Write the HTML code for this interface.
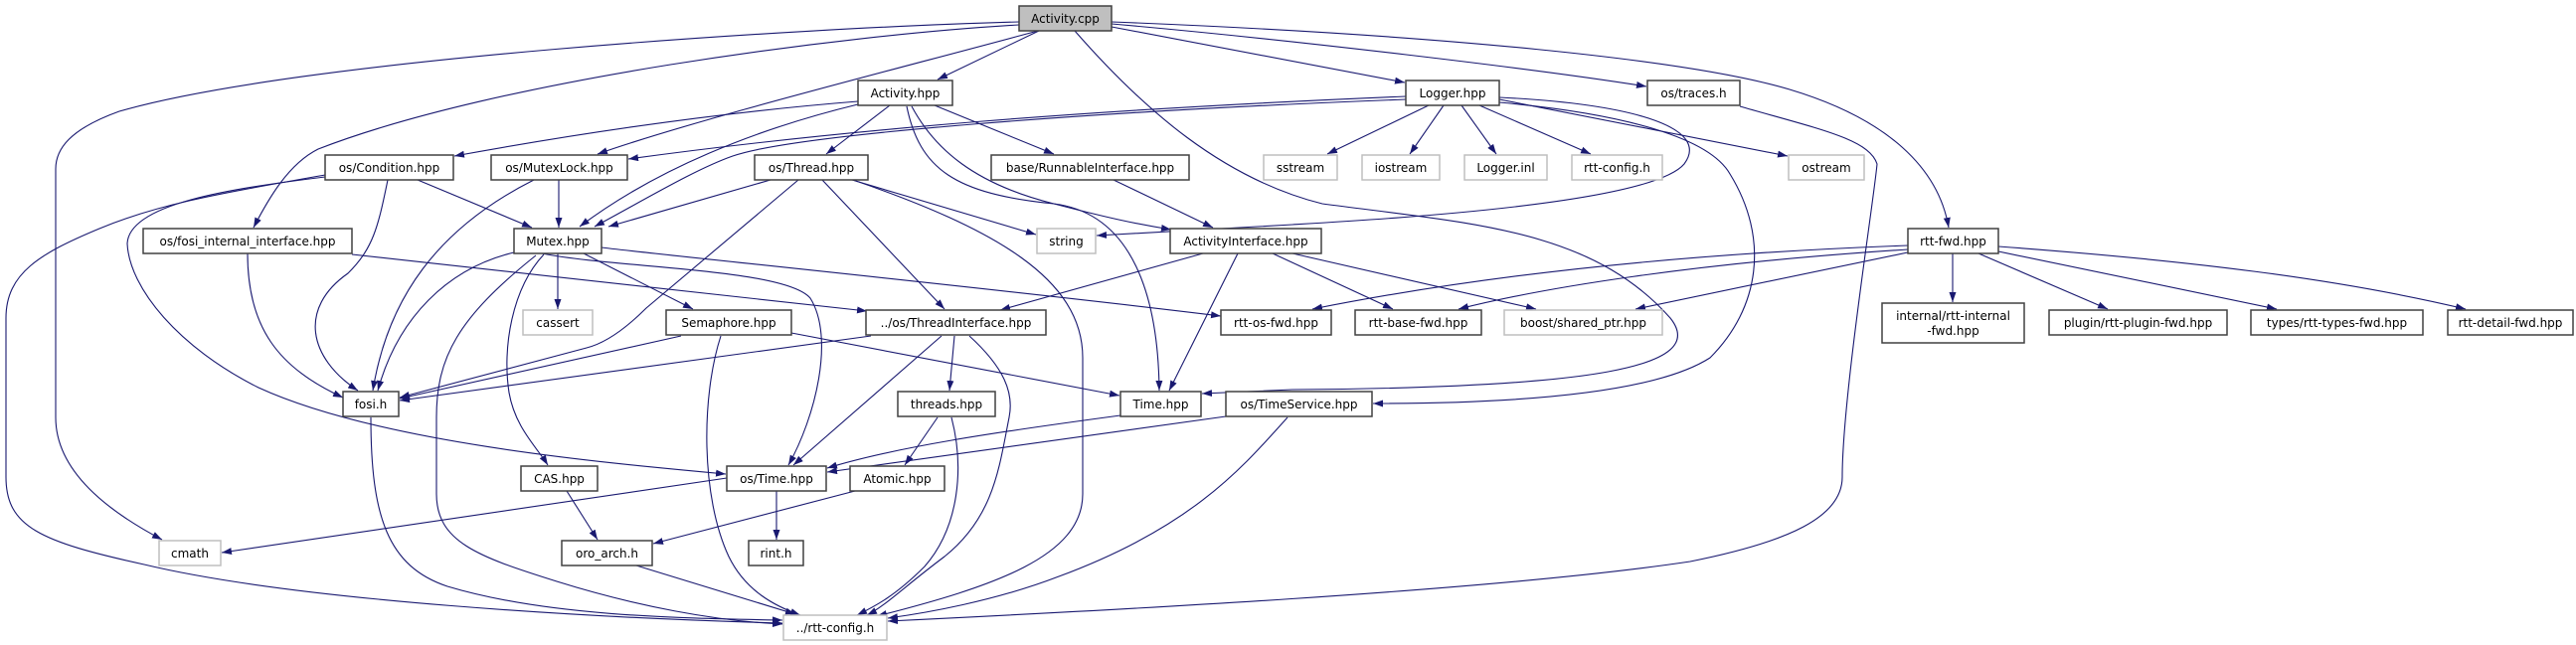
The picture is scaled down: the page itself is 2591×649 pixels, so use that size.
<!DOCTYPE html>
<html><head><meta charset="utf-8"><style>
html,body{margin:0;padding:0;background:#fff}
svg{display:block}
text{font-family:"DejaVu Sans","Liberation Sans",sans-serif;font-size:12px;fill:#000}
.n rect{fill:#fff;stroke:#404040;stroke-width:1.5}
.g rect{fill:#fff;stroke:#bfbfbf;stroke-width:1.5}
.e path{fill:none;stroke:#191970;stroke-width:1.1}
</style></head><body>
<svg width="2591" height="649" viewBox="0 0 2591 649" xmlns="http://www.w3.org/2000/svg">
<defs><marker id="a" markerUnits="userSpaceOnUse" markerWidth="11" markerHeight="8" refX="10" refY="3.5" orient="auto"><path d="M0,0 L10,3.5 L0,7 z" fill="#191970"/></marker></defs>
<g class="e" marker-end="url(#a)">
<path d="M1025,22 C800,28 300,60 120,112 C70,130 56,150 56,170 L56,420 C56,475 110,515 163,543"/>
<path d="M1025,25 C850,35 500,80 320,150 C290,165 270,200 255,229"/>
<path d="M1044,31 C900,70 700,120 601,155"/>
<path d="M1045,31 L943,80"/>
<path d="M1118,27 L1413,83"/>
<path d="M1118,24 C1300,40 1550,70 1656,87"/>
<path d="M1118,22 C1450,35 1700,60 1800,90 C1900,120 1950,170 1960,229"/>
<path d="M1081,31 C1150,110 1230,180 1330,205 C1480,225 1600,230 1680,320 C1720,370 1600,390 1300,392 L1209,396"/>
<path d="M1508,98 C1650,105 1720,130 1694,165 C1660,205 1400,220 1300,226 L1103,237"/>
<path d="M1508,103 C1640,115 1720,140 1740,175 C1780,240 1770,310 1720,360 C1650,405 1450,406 1381,406"/>
<path d="M1437,106 L1335,155"/>
<path d="M1452,106 L1418,155"/>
<path d="M1470,106 L1505,155"/>
<path d="M1488,106 L1600,155"/>
<path d="M1508,100 L1798,157"/>
<path d="M1414,97 C1100,110 850,130 632,160"/>
<path d="M1414,100 C1100,112 800,135 737,157 C700,170 650,200 598,228"/>
<path d="M863,102 C700,115 550,140 457,157"/>
<path d="M863,105 C760,130 660,170 583,228"/>
<path d="M775,181 L612,228"/>
<path d="M562,181 L562,229"/>
<path d="M420,181 L535,229"/>
<path d="M895,106 L831,155"/>
<path d="M940,106 L1060,155"/>
<path d="M917,107 C940,150 980,185 1060,205 C1110,218 1140,225 1178,231"/>
<path d="M912,107 C925,170 960,195 1060,205 C1140,215 1165,300 1166,393"/>
<path d="M1120,181 L1220,229"/>
<path d="M561,255 L561,311"/>
<path d="M517,254 C450,270 400,320 380,393"/>
<path d="M587,255 L697,311"/>
<path d="M354,256 L872,313"/>
<path d="M605,249 C650,255 1000,290 1228,318"/>
<path d="M545,255 C620,270 790,270 815,300 C840,340 820,420 793,468"/>
<path d="M547,256 C515,290 505,350 512,395 C518,430 540,450 551,468"/>
<path d="M539,257 C460,320 439,360 439,420 L439,497 C439,545 480,560 560,585 C640,610 720,625 787,628"/>
<path d="M373,420 C373,520 390,570 450,590 C550,620 680,622 787,624"/>
<path d="M327,176 C220,195 160,205 100,230 C40,255 6,275 6,320 L6,480 C6,530 40,545 145,568 C300,605 600,622 787,627"/>
<path d="M327,178 C230,190 130,205 128,245 C130,290 180,350 260,390 C380,445 600,465 730,477"/>
<path d="M390,181 C380,230 375,250 350,275 C300,310 310,360 360,393"/>
<path d="M537,181 C440,230 390,300 375,393"/>
<path d="M249,255 C249,330 280,370 345,400"/>
<path d="M803,181 L650,310 C630,330 610,345 590,350 L402,400"/>
<path d="M685,338 L402,401"/>
<path d="M876,338 L402,403"/>
<path d="M827,181 L950,311"/>
<path d="M857,181 L1042,236"/>
<path d="M858,181 C1000,230 1089,280 1089,360 L1089,497 C1089,560 1000,590 882,620"/>
<path d="M1210,255 L1006,312"/>
<path d="M1245,255 L1176,393"/>
<path d="M1280,255 L1401,311"/>
<path d="M1300,255 L1545,311"/>
<path d="M796,335 L1126,398"/>
<path d="M725,338 C705,400 705,500 733,560 C750,595 780,610 805,619"/>
<path d="M960,338 L955,393"/>
<path d="M947,338 L798,468"/>
<path d="M975,338 C1010,370 1020,395 1015,420 C1005,470 1000,520 950,560 C910,590 890,610 872,619"/>
<path d="M943,420 L910,468"/>
<path d="M957,420 C970,470 965,530 930,570 C900,600 880,610 862,619"/>
<path d="M1127,418 C1000,435 900,450 832,471"/>
<path d="M1233,419 L832,475"/>
<path d="M1295,420 C1250,470 1200,530 1065,580 C1000,605 930,617 893,622"/>
<path d="M1750,107 C1830,130 1880,140 1888,165 C1885,200 1853,400 1853,480 C1853,520 1800,545 1700,565 C1500,595 1100,615 893,625"/>
<path d="M731,481 L223,556"/>
<path d="M781,494 L781,543"/>
<path d="M860,494 L657,547"/>
<path d="M570,494 L601,543"/>
<path d="M640,569 L800,618"/>
<path d="M1919,247 C1700,255 1500,275 1320,311"/>
<path d="M1919,251 C1700,265 1550,290 1467,311"/>
<path d="M1919,254 L1645,311"/>
<path d="M1964,255 L1964,304"/>
<path d="M1990,255 L2120,311"/>
<path d="M2010,253 L2290,311"/>
<path d="M2010,248 C2200,262 2350,280 2480,311"/>
</g>
<g text-anchor="middle">
<g class="n"><rect x="1025" y="6" width="93" height="25" style="fill:#bfbfbf"/><text x="1071.5" y="23">Activity.cpp</text></g>
<g class="n"><rect x="863" y="81" width="95" height="25"/><text x="910.5" y="98">Activity.hpp</text></g>
<g class="n"><rect x="1414" y="81" width="94" height="25"/><text x="1461" y="98">Logger.hpp</text></g>
<g class="n"><rect x="1657" y="81" width="93" height="25"/><text x="1703.5" y="98">os/traces.h</text></g>
<g class="n"><rect x="327" y="156" width="129" height="25"/><text x="391.5" y="173">os/Condition.hpp</text></g>
<g class="n"><rect x="494" y="156" width="137" height="25"/><text x="562.5" y="173">os/MutexLock.hpp</text></g>
<g class="n"><rect x="759" y="156" width="114" height="25"/><text x="816" y="173">os/Thread.hpp</text></g>
<g class="n"><rect x="997" y="156" width="199" height="25"/><text x="1096.5" y="173">base/RunnableInterface.hpp</text></g>
<g class="g"><rect x="1271" y="156" width="74" height="25"/><text x="1308" y="173">sstream</text></g>
<g class="g"><rect x="1370" y="156" width="78" height="25"/><text x="1409" y="173">iostream</text></g>
<g class="g"><rect x="1473" y="156" width="83" height="25"/><text x="1514.5" y="173">Logger.inl</text></g>
<g class="g"><rect x="1581" y="156" width="91" height="25"/><text x="1626.5" y="173">rtt-config.h</text></g>
<g class="g"><rect x="1799" y="156" width="76" height="25"/><text x="1837" y="173">ostream</text></g>
<g class="n"><rect x="144" y="230" width="210" height="25"/><text x="249" y="247">os/fosi_internal_interface.hpp</text></g>
<g class="n"><rect x="517" y="230" width="88" height="25"/><text x="561" y="247">Mutex.hpp</text></g>
<g class="g"><rect x="1043" y="230" width="59" height="25"/><text x="1072.5" y="247">string</text></g>
<g class="n"><rect x="1177" y="230" width="152" height="25"/><text x="1253" y="247">ActivityInterface.hpp</text></g>
<g class="n"><rect x="1919" y="230" width="91" height="25"/><text x="1964.5" y="247">rtt-fwd.hpp</text></g>
<g class="g"><rect x="526" y="312" width="70" height="25"/><text x="561" y="329">cassert</text></g>
<g class="n"><rect x="670" y="312" width="126" height="25"/><text x="733" y="329">Semaphore.hpp</text></g>
<g class="n"><rect x="871" y="312" width="181" height="25"/><text x="961.5" y="329">../os/ThreadInterface.hpp</text></g>
<g class="n"><rect x="1228" y="312" width="111" height="25"/><text x="1283.5" y="329">rtt-os-fwd.hpp</text></g>
<g class="n"><rect x="1363" y="312" width="127" height="25"/><text x="1426.5" y="329">rtt-base-fwd.hpp</text></g>
<g class="g"><rect x="1513" y="312" width="159" height="25"/><text x="1592.5" y="329">boost/shared_ptr.hpp</text></g>
<g class="n"><rect x="1893" y="305" width="143" height="40"/><text x="1964.5" y="322">internal/rtt-internal</text><text x="1964.5" y="337">-fwd.hpp</text></g>
<g class="n"><rect x="2061" y="312" width="179" height="25"/><text x="2150.5" y="329">plugin/rtt-plugin-fwd.hpp</text></g>
<g class="n"><rect x="2264" y="312" width="173" height="25"/><text x="2350.5" y="329">types/rtt-types-fwd.hpp</text></g>
<g class="n"><rect x="2462" y="312" width="126" height="25"/><text x="2525" y="329">rtt-detail-fwd.hpp</text></g>
<g class="n"><rect x="345" y="394" width="56" height="25"/><text x="373" y="411">fosi.h</text></g>
<g class="n"><rect x="903" y="394" width="98" height="25"/><text x="952" y="411">threads.hpp</text></g>
<g class="n"><rect x="1127" y="394" width="81" height="25"/><text x="1167.5" y="411">Time.hpp</text></g>
<g class="n"><rect x="1233" y="394" width="147" height="25"/><text x="1306.5" y="411">os/TimeService.hpp</text></g>
<g class="n"><rect x="524" y="469" width="77" height="25"/><text x="562.5" y="486">CAS.hpp</text></g>
<g class="n"><rect x="731" y="469" width="100" height="25"/><text x="781" y="486">os/Time.hpp</text></g>
<g class="n"><rect x="855" y="469" width="95" height="25"/><text x="902.5" y="486">Atomic.hpp</text></g>
<g class="g"><rect x="160" y="544" width="62" height="25"/><text x="191" y="561">cmath</text></g>
<g class="n"><rect x="565" y="544" width="91" height="25"/><text x="610.5" y="561">oro_arch.h</text></g>
<g class="n"><rect x="753" y="544" width="55" height="25"/><text x="780.5" y="561">rint.h</text></g>
<g class="g"><rect x="788" y="619" width="104" height="25"/><text x="840" y="636">../rtt-config.h</text></g>
</g>
</svg>
</body></html>
